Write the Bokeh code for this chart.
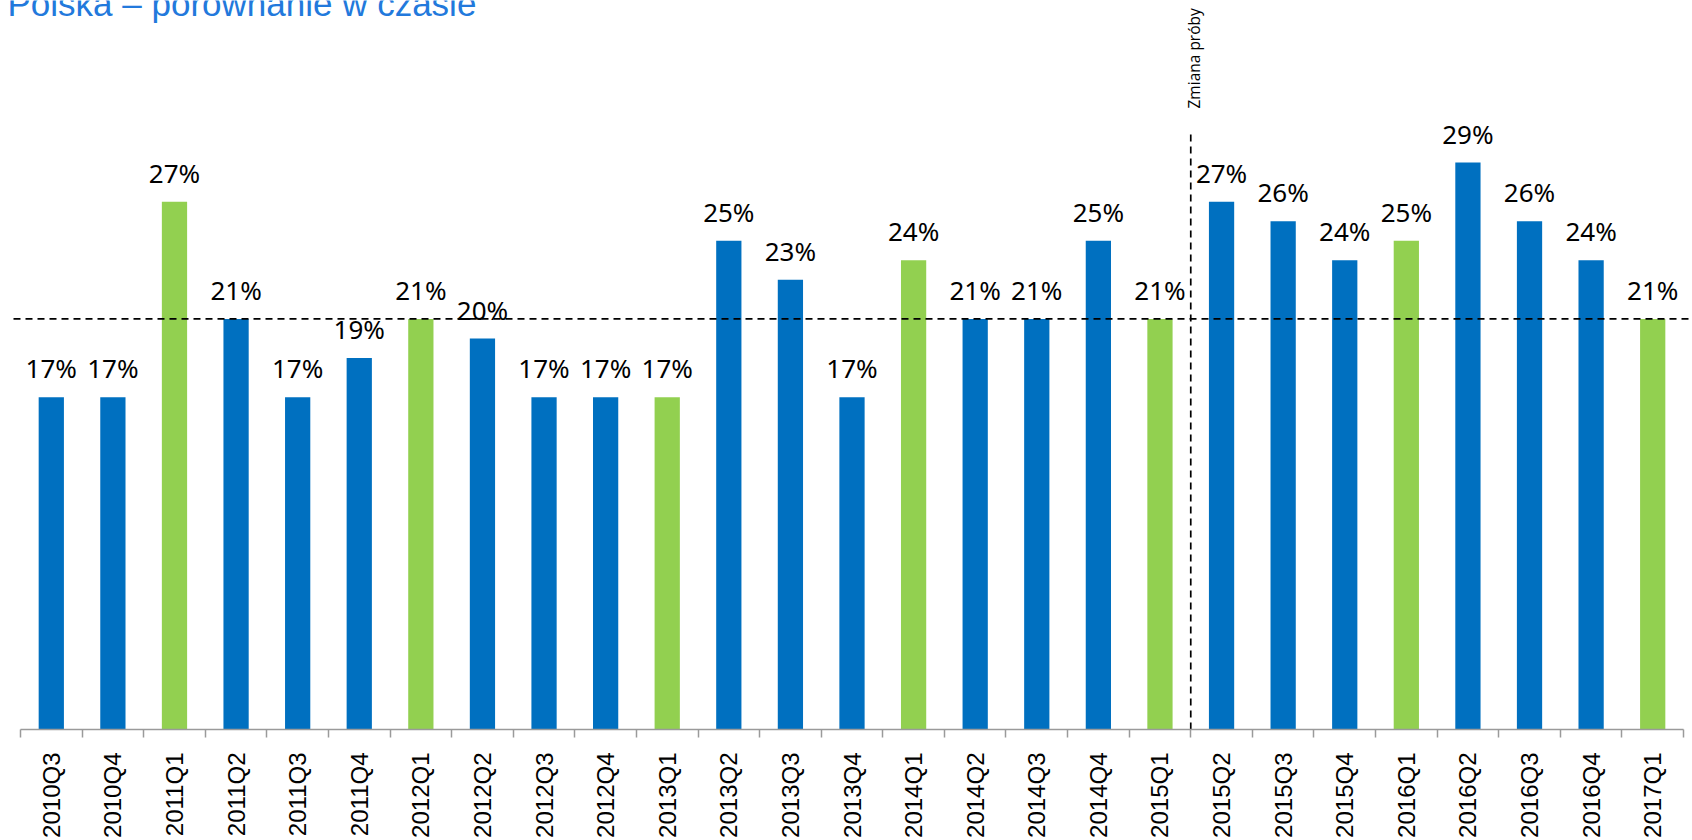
import math
from bokeh.plotting import figure
from bokeh.models import ColumnDataSource, Range1d, FixedTicker, Label, LabelSet
from bokeh.core.properties import value
from bokeh.embed import file_html
from bokeh.resources import INLINE

# ---- data ----
categories = ["2010Q3", "2010Q4", "2011Q1", "2011Q2", "2011Q3", "2011Q4",
              "2012Q1", "2012Q2", "2012Q3", "2012Q4", "2013Q1", "2013Q2",
              "2013Q3", "2013Q4", "2014Q1", "2014Q2", "2014Q3", "2014Q4",
              "2015Q1", "2015Q2", "2015Q3", "2015Q4", "2016Q1", "2016Q2",
              "2016Q3", "2016Q4", "2017Q1"]
values = [17, 17, 27, 21, 17, 19, 21, 20, 17, 17, 17, 25, 23, 17, 24, 21, 21,
          25, 21, 27, 26, 24, 25, 29, 26, 24, 21]
reference_level = 21
sample_change_after = "2015Q1"
title_text = "Polska – porównanie w czasie"
note_text = "Zmiana  próby"

# ---- styling / layout ----
BLUE = "#0070C0"
GREEN = "#92D050"
TITLE_BLUE = "#2279DC"
n = len(categories)
frame_w = 1692
frame_h = 729
ax_left, ax_right = 20, 1683
px_x = (ax_right - ax_left) / n     # pixels per category
px_y = 19.55                        # pixels per percentage point
x_start = -ax_left / px_x
x_end = n + (frame_w - ax_right) / px_x
y_end = frame_h / px_y

xs = [i + 0.5 for i in range(n)]
colors = [GREEN if c.endswith("Q1") else BLUE for c in categories]
labels = [f"{v}%" for v in values]
src = ColumnDataSource(dict(x=xs, top=values, color=colors, label=labels))

p = figure(frame_width=frame_w, frame_height=frame_h,
           x_range=Range1d(x_start, x_end), y_range=Range1d(0, y_end),
           output_backend="svg", toolbar_location=None,
           y_axis_location=None, min_border=0)
p.outline_line_color = None
p.xgrid.visible = False
p.ygrid.visible = False
p.background_fill_color = "white"
p.border_fill_color = "white"

p.vbar(x="x", top="top", width=0.41, fill_color="color", line_color=None, source=src)

# reference level dashed line
p.line([x_start + 13 / px_x, x_end], [reference_level, reference_level],
       line_color="black", line_width=1.7, line_dash="7 5")

# sample change vertical dashed line
brk = categories.index(sample_change_after) + 1
p.segment(x0=[brk], y0=[0], x1=[brk], y1=[y_end - 133 / px_y],
          line_color="black", line_width=1.7, line_dash="7 5")

p.add_layout(Label(x=brk, y=y_end - 108 / px_y, x_offset=3, text=note_text,
                   angle=math.pi / 2, text_align="left", text_baseline="alphabetic",
                   text_font="Open Sans", text_font_size="15.5px", text_color="black"))

# data labels
p.add_layout(LabelSet(x="x", y="top", text="label", source=src, y_offset=19,
                      text_align="center", text_baseline="alphabetic",
                      text_font=value("Noto Sans"), text_font_size=value("26px"),
                      text_color=value("black")))

# title (partly cut at the top, as in the reference)
p.add_layout(Label(x=x_start, y=y_end, x_offset=7, y_offset=-3, text=title_text,
                   text_align="left", text_baseline="alphabetic",
                   text_font="Liberation Sans", text_font_size="35px",
                   text_color=TITLE_BLUE))

# x axis with ticks at category boundaries
ax = p.xaxis[0]
ax.ticker = FixedTicker(ticks=xs, minor_ticks=list(range(n + 1)))
ax.major_label_overrides = {x: c for x, c in zip(xs, categories)}
ax.bounds = (0, n)
ax.major_tick_line_color = None
ax.minor_tick_line_color = "#9a9a9a"
ax.minor_tick_line_width = 1.5
ax.minor_tick_out = 8
ax.minor_tick_in = 0
ax.axis_line_color = "#9a9a9a"
ax.axis_line_width = 1.5
ax.major_label_orientation = math.pi / 2
ax.major_label_standoff = 15
ax.major_label_text_font = "Liberation Sans"
ax.major_label_text_font_size = "24px"
ax.major_label_text_color = "black"

open("out.html", "w").write(file_html(p, INLINE))
